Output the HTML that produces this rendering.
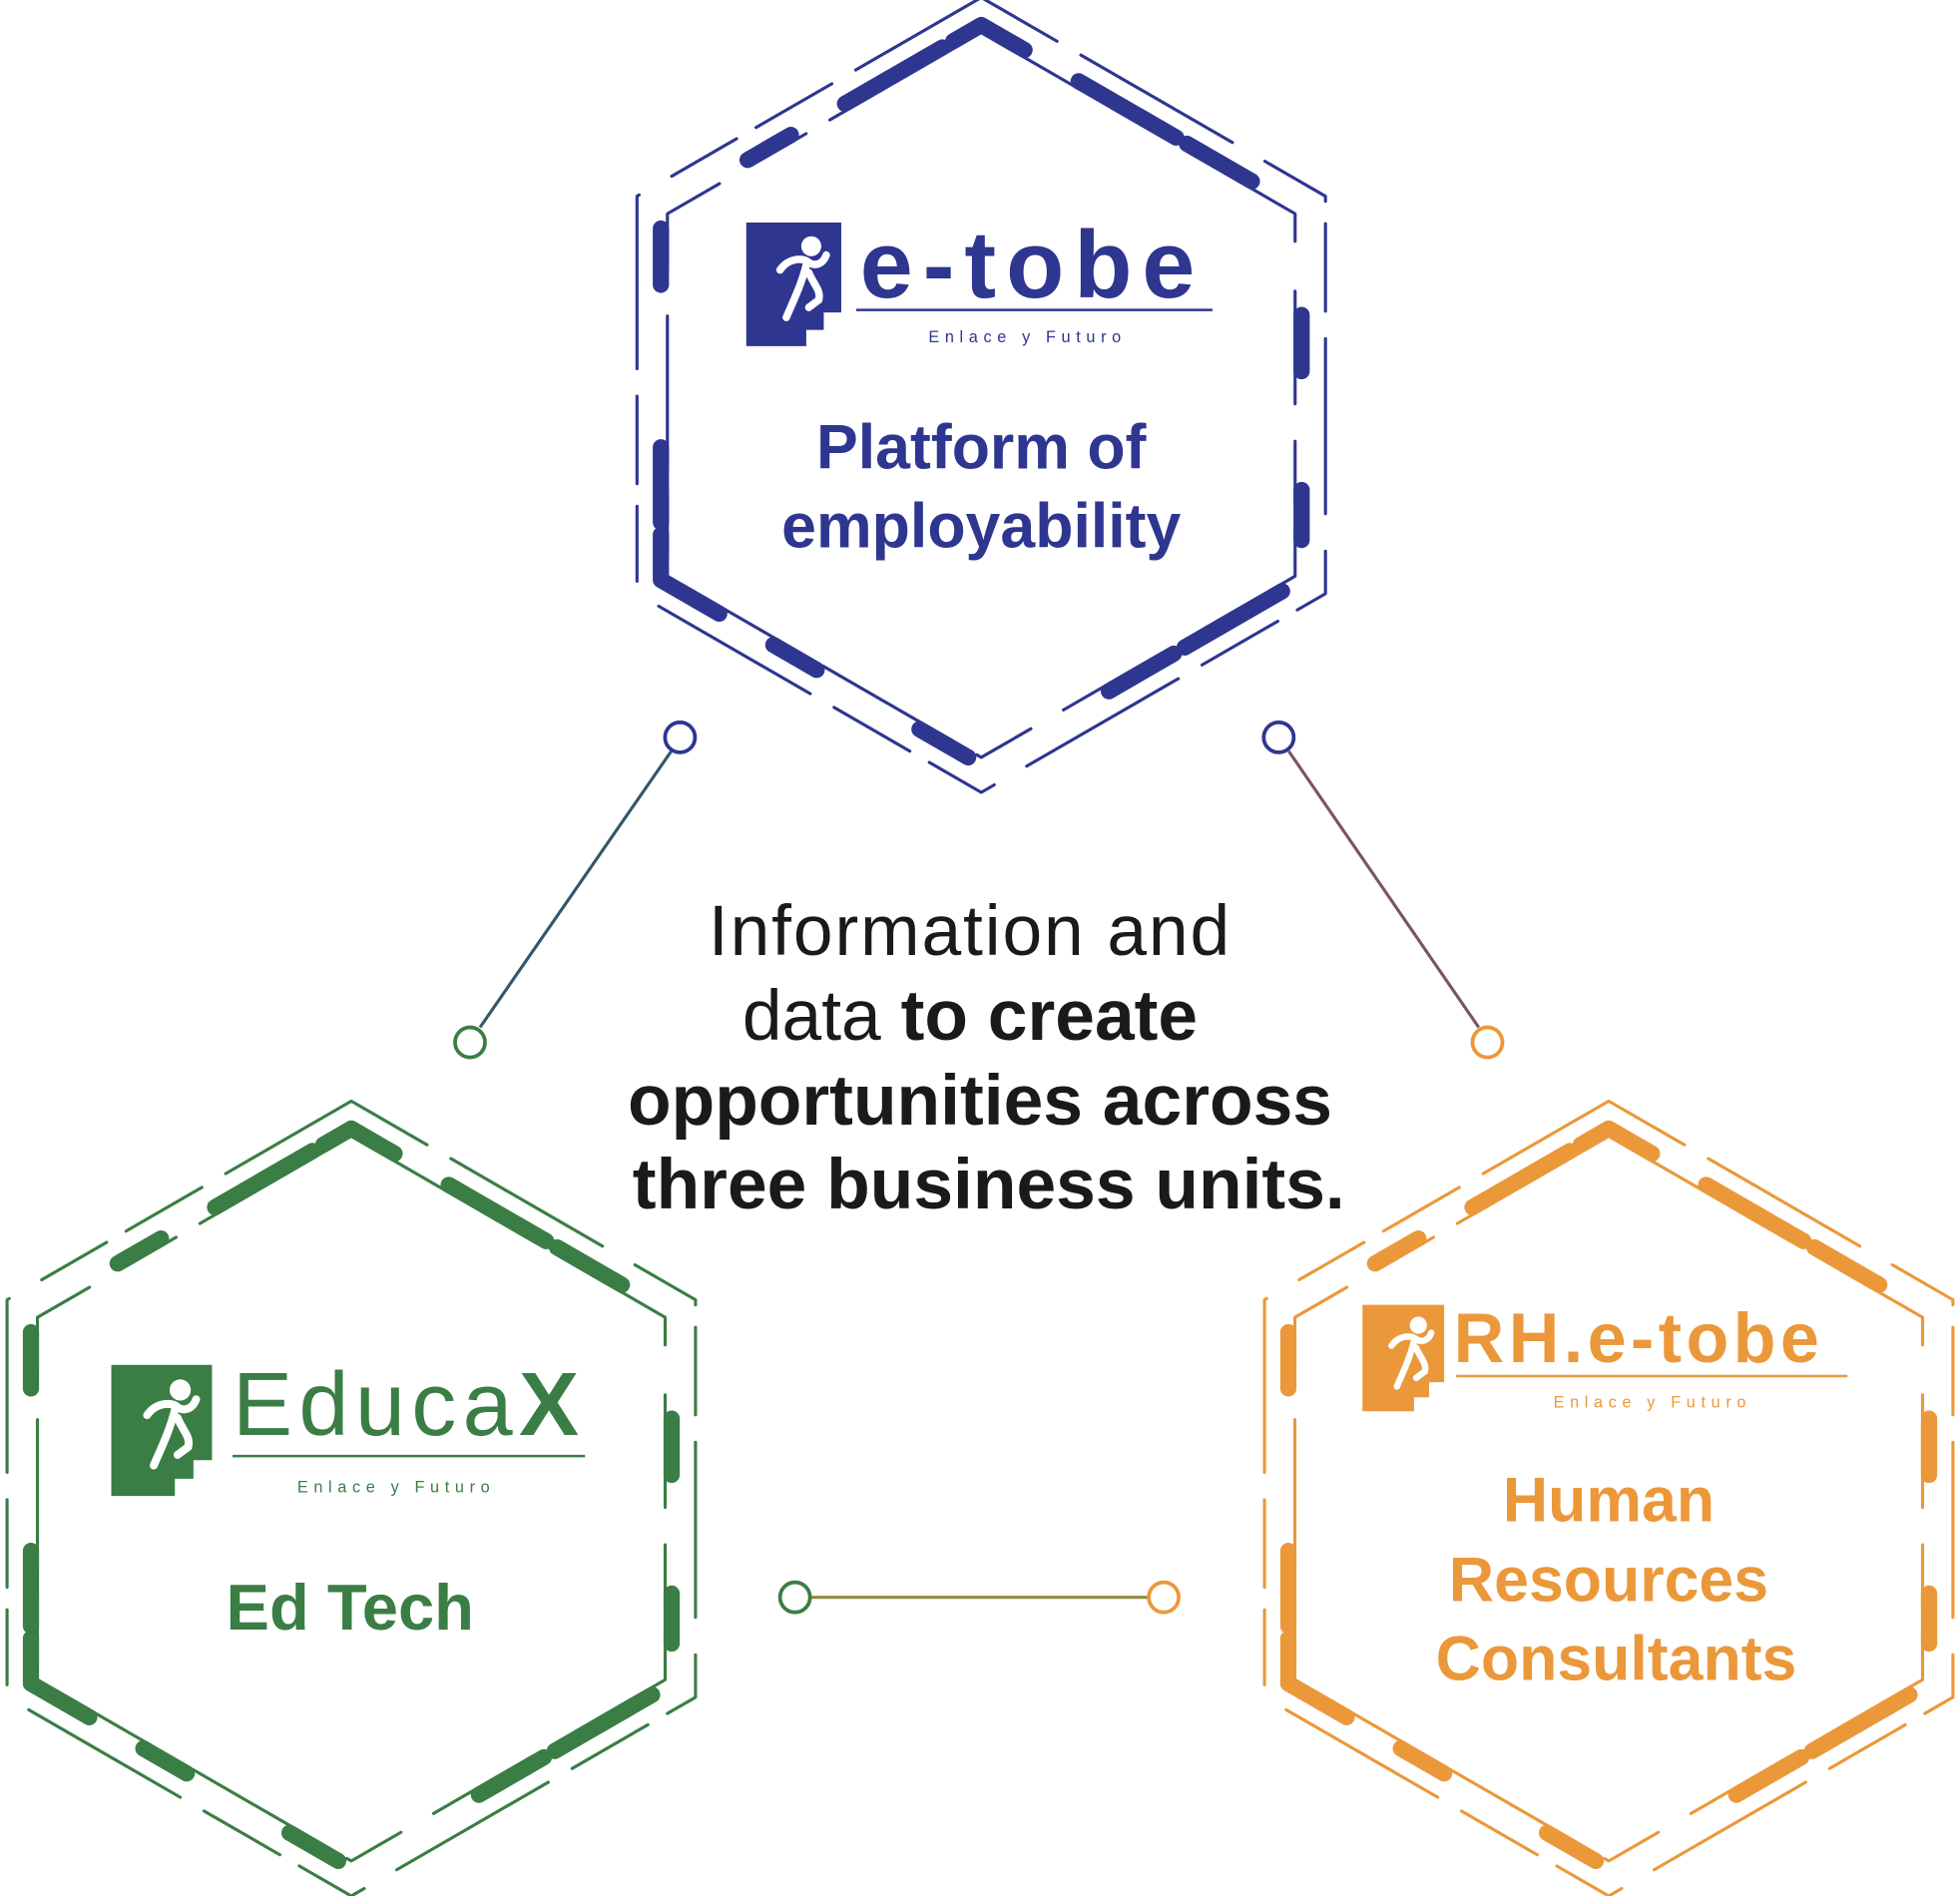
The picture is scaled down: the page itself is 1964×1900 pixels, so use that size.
<!DOCTYPE html>
<html><head><meta charset="utf-8"><style>
html,body{margin:0;padding:0;background:#fff;}
svg{display:block;}
text{font-family:"Liberation Sans",sans-serif;}
</style></head><body>
<svg width="1964" height="1900" viewBox="0 0 1568 1517" xmlns="http://www.w3.org/2000/svg">
<defs>
<g id="hex" fill="none" stroke="currentColor" stroke-linecap="round" stroke-linejoin="round">
  <polygon points="0,-318 275.4,-159 275.4,159 0,318 -275.4,159 -275.4,-159" stroke-width="2.5" stroke-dasharray="70 22 140 30 60 18"/>
  <polygon points="0,-296 256.3,-148 256.3,148 0,296 -256.3,148 -256.3,-148" stroke-width="13" stroke-dasharray="40 50 90 10 60 130 45 95"/>
  <polygon points="0,-290 251.1,-145 251.1,145 0,290 -251.1,145 -251.1,-145" stroke-width="2.5" stroke-dasharray="90 30 50 22 120 40"/>
</g>
<g id="icon">
  <path d="M0,0 H76 V72 H62 V86 H48 V99 H0 Z" fill="currentColor"/>
  <circle cx="52" cy="19" r="8" fill="#fff"/>
  <path d="M27,38 C34,28 46,28 50,32 C56,36 62,32 64,26 M48,34 C44,50 38,62 32,76 M50,40 C54,50 60,54 58,62 L50,68" stroke="#fff" stroke-width="6" fill="none" stroke-linecap="round"/>
</g>
</defs>

<use href="#hex" x="785" y="316" color="#2e3690"/>
<use href="#hex" x="281" y="1199" color="#3a7d45"/>
<use href="#hex" x="1287" y="1199" color="#eb983b"/>

<line x1="537" y1="601" x2="384" y2="822" stroke="#34576a" stroke-width="2.5"/>
<line x1="1031" y1="601" x2="1183" y2="822" stroke="#7a5560" stroke-width="2.5"/>
<line x1="649" y1="1278" x2="918" y2="1278" stroke="#8a8a40" stroke-width="2.5"/>
<circle cx="544" cy="590" r="12" fill="#fff" stroke="#2e3690" stroke-width="3"/>
<circle cx="376" cy="834" r="12" fill="#fff" stroke="#3a7d45" stroke-width="3"/>
<circle cx="1023" cy="590" r="12" fill="#fff" stroke="#2e3690" stroke-width="3"/>
<circle cx="1190" cy="834" r="12" fill="#fff" stroke="#eb983b" stroke-width="3"/>
<circle cx="636" cy="1278" r="12" fill="#fff" stroke="#3a7d45" stroke-width="3"/>
<circle cx="931" cy="1278" r="12" fill="#fff" stroke="#eb983b" stroke-width="3"/>

<g fill="#1a1a1a" font-size="57" text-anchor="middle">
<text x="776" y="764" letter-spacing="1.5">Information and</text>
<text x="776" y="832">data <tspan font-weight="bold">to create</tspan></text>
<text x="784" y="900" font-weight="bold">opportunities across</text>
<text x="791" y="967" font-weight="bold">three business units.</text>
</g>

<use href="#icon" x="597" y="178" color="#2e3690"/>
<text x="688" y="238" font-size="76" font-weight="bold" fill="#2e3690" letter-spacing="8">e-tobe</text>
<rect x="685" y="247" width="285" height="2" fill="#2e3690"/>
<text x="822" y="274" font-size="13" fill="#2e3690" text-anchor="middle" letter-spacing="4.5">Enlace y Futuro</text>
<text x="785" y="375" font-size="50" font-weight="bold" fill="#2e3690" text-anchor="middle">Platform of</text>
<text x="785" y="438" font-size="50" font-weight="bold" fill="#2e3690" text-anchor="middle">employability</text>

<g transform="translate(89,1092) scale(1.06)"><use href="#icon" color="#3a7d45"/></g>
<text x="186" y="1148" font-size="72" fill="#3a7d45" letter-spacing="5">Educa<tspan font-weight="bold">X</tspan></text>
<rect x="186" y="1164" width="282" height="2" fill="#3a7d45"/>
<text x="317" y="1194" font-size="13" fill="#3a7d45" text-anchor="middle" letter-spacing="4.5">Enlace y Futuro</text>
<text x="280" y="1304" font-size="52" font-weight="bold" fill="#3a7d45" text-anchor="middle">Ed Tech</text>

<g transform="translate(1090,1044) scale(0.86)"><use href="#icon" color="#eb983b"/></g>
<text x="1163" y="1090" font-size="56" font-weight="bold" fill="#eb983b" letter-spacing="3.5">RH.e-tobe</text>
<rect x="1165" y="1100" width="313" height="2" fill="#eb983b"/>
<text x="1322" y="1126" font-size="13" fill="#eb983b" text-anchor="middle" letter-spacing="4.5">Enlace y Futuro</text>
<g font-size="50" font-weight="bold" fill="#eb983b" text-anchor="middle">
<text x="1287" y="1217">Human</text>
<text x="1287" y="1281">Resources</text>
<text x="1293" y="1344">Consultants</text>
</g>
</svg>
</body></html>
